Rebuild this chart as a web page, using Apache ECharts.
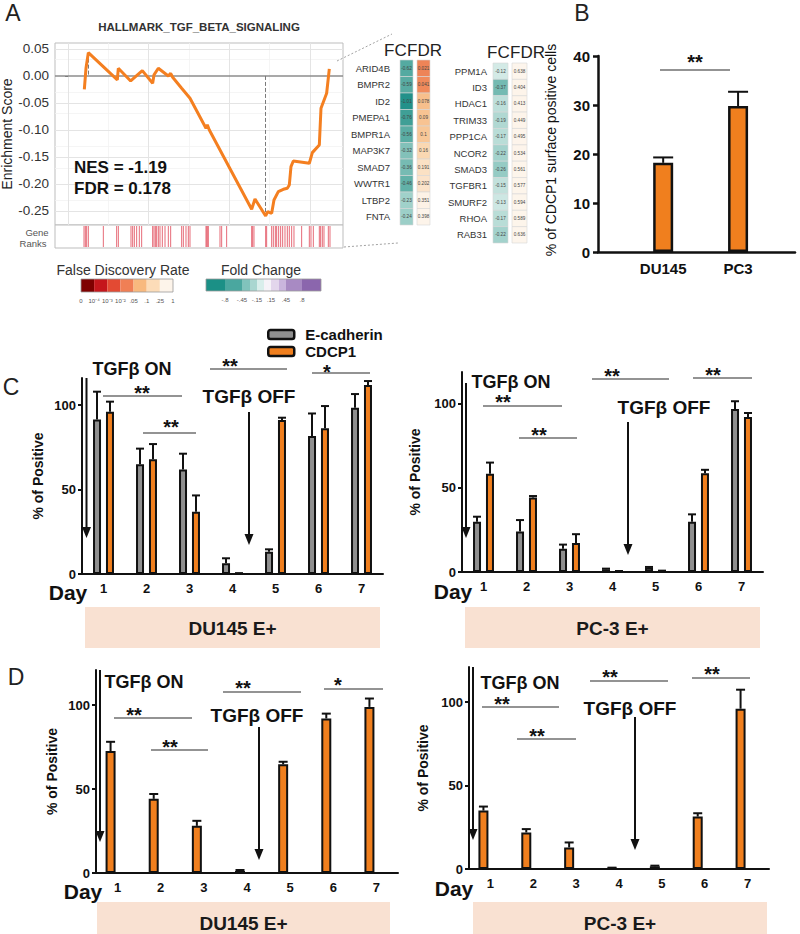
<!DOCTYPE html>
<html><head><meta charset="utf-8">
<script src="https://cdn.jsdelivr.net/npm/echarts@6/dist/echarts.min.js"></script>
<style>html,body{margin:0;padding:0;background:#fff}#c{width:800px;height:934px}</style>
</head><body><div id="c"></div>
<script>
// ================= DATA =================
// Panel A: running enrichment score (gene rank, ES)
const esRank  = [806, 889, 1005, 2445, 2494, 3107, 3686, 4199, 4265, 4480, 4977, 5093, 5192, 5639, 6053, 6847, 6913, 7013, 9115, 9280, 9810, 9909, 10108, 10223, 10438, 10687, 10885, 10985, 11067, 11183, 11978, 12127, 12474, 12557, 12838, 12970];
const esScore = [-0.0247, 0.0142, 0.0432, -0.0074, 0.0142, -0.0093, 0.0099, -0.0136, 0.0019, 0.0142, 0.0000, 0.0049, -0.0025, -0.0228, -0.0414, -0.0969, -0.0907, -0.1000, -0.2469, -0.2278, -0.2593, -0.2512, -0.2543, -0.2296, -0.2142, -0.2099, -0.2080, -0.2019, -0.1679, -0.1574, -0.1617, -0.1420, -0.1278, -0.0599, -0.0321, 0.0130];
const rankHits = [790, 856, 922, 1005, 1750, 2412, 2495, 3123, 3206, 3289, 3405, 3537, 3653, 4199, 4265, 4332, 4398, 4481, 4563, 4679, 4812, 4977, 5093, 5639, 5722, 5854, 5970, 6053, 6847, 6880, 6930, 6963, 7542, 7625, 7873, 9115, 9164, 9230, 9810, 9859, 10108, 10190, 10290, 10356, 10455, 10554, 10654, 10770, 10885, 10985, 11101, 11216, 11597, 11978, 12060, 12176, 12474, 12540, 12623, 12706, 12921, 13004];
const esTicks = [-0.25, -0.2, -0.15, -0.1, -0.05, 0, 0.05];
const esMinorTicks = [-0.275, -0.225, -0.175, -0.125, -0.075, -0.025, 0.025];
const rankGridMajor = [0, 4000, 8000, 12000];
const rankGridMinor = [2000, 6000, 10000];

// Panel A tables
const genes1 = ['ARID4B', 'BMPR2', 'ID2', 'PMEPA1', 'BMPR1A', 'MAP3K7', 'SMAD7', 'WWTR1', 'LTBP2', 'FNTA'];
const fc1    = [-0.62, -0.59, -1.01, -0.76, -0.56, -0.32, -0.36, -0.46, -0.23, -0.24];
const fdr1   = [0.021, 0.041, 0.078, 0.09, 0.1, 0.16, 0.191, 0.202, 0.351, 0.398];
const genes2 = ['PPM1A', 'ID3', 'HDAC1', 'TRIM33', 'PPP1CA', 'NCOR2', 'SMAD3', 'TGFBR1', 'SMURF2', 'RHOA', 'RAB31'];
const fc2    = [-0.12, -0.37, -0.16, -0.19, -0.17, -0.22, -0.26, -0.15, -0.13, -0.17, -0.22];
const fdr2   = [0.638, 0.404, 0.413, 0.449, 0.495, 0.534, 0.561, 0.577, 0.594, 0.589, 0.636];
const tableCols = ['FC', 'FDR'];
const fdrLegendLabels = ['0', '10\u207B\u2074', '10\u207B\u00B3', '10\u207B\u00B2', '.05', '.1', '.25', '1'];
const fcLegendLabels = ['-.8', '-.45', '-.15', '.15', '.45', '.8'];

// Panel B
const bNames = ['DU145', 'PC3'];
const bPos   = [1, 2];
const bVals  = [18.2, 29.8];
const bErr   = [1.1, 2.9];

// Panels C / D
const days = ['1', '2', '3', '4', '5', '6', '7'];
const yTicksCD = [0, 50, 100];
const cDuEcad = [91.5, 65.0, 61.9, 6.3, 13.2, 81.7, 98.4];
const cDuEcadErr = [16.4, 9.2, 9.3, 3.0, 1.4, 13.3, 8.1];
const cDuCdcp = [96.0, 67.9, 36.9, 0.3, 91.1, 86.2, 111.8];
const cDuCdcpErr = [6.0, 9.0, 9.6, 0.2, 1.4, 13.2, 2.4];
const cPcEcad = [29.9, 24.1, 13.9, 1.6, 2.6, 29.9, 97.0];
const cPcEcadErr = [3.0, 6.8, 2.4, 0.4, 0.4, 4.4, 4.6];
const cPcCdcp = [58.4, 44.4, 17.3, 0.4, 0.6, 58.8, 92.2];
const cPcCdcpErr = [6.7, 0.8, 5.2, 0.2, 0.2, 2.0, 2.4];
const dDuCdcp = [72.7, 44.2, 28.1, 1.2, 64.8, 92.1, 99.0];
const dDuCdcpErr = [5.5, 2.9, 3.0, 0.6, 1.5, 2.9, 5.0];
const dPcCdcp = [35.0, 21.9, 12.9, 0.5, 1.6, 31.4, 96.0];
const dPcCdcpErr = [2.4, 2.0, 3.0, 0.3, 0.4, 2.0, 11.4];

// ================= STYLE / HELPERS =================
const FF = '"Liberation Sans", Arial, sans-serif';
const ORANGE = '#f07f1e', GREY = '#8f8f8f', INK = '#111';

function hexToRgb(h){h=h.replace('#','');return [parseInt(h.slice(0,2),16),parseInt(h.slice(2,4),16),parseInt(h.slice(4,6),16)];}
function interp(stops, v){
  if (v <= stops[0][0]) return stops[0][1];
  if (v >= stops[stops.length-1][0]) return stops[stops.length-1][1];
  for (let i=0;i<stops.length-1;i++){
    const a=stops[i], b=stops[i+1];
    if (v>=a[0] && v<=b[0]){
      const t=(v-a[0])/(b[0]-a[0]); const ca=hexToRgb(a[1]), cb=hexToRgb(b[1]);
      return 'rgb('+ca.map((c,k)=>Math.round(c+(cb[k]-c)*t)).join(',')+')';
    }
  }
}
const fcStops = [[-1.01,'#22918a'],[-0.76,'#3f9f96'],[-0.6,'#57aba2'],[-0.45,'#63b1a8'],[-0.35,'#78bcb4'],[-0.25,'#98cdc6'],[-0.2,'#abd6d0'],[-0.15,'#c2e1dc'],[-0.12,'#d3eae6']];
const fdrStops = [[0.02,'#ee8457'],[0.045,'#f08b5c'],[0.075,'#f7be8b'],[0.1,'#f8c797'],[0.16,'#fad8b2'],[0.2,'#fbe3c9'],[0.3,'#fcf0e2'],[0.4,'#fdf4ea'],[1,'#fdf6ee']];
const fdrLegendColors = ['#7f0000','#c5161c','#e34a33','#f07f55','#f8b97e','#fcdcb8','#fdf4ea'];
const fcLegendColors = ['#1b9086','#4aa79f','#80c3bc','#a9d6d0','#d9eeeb','#f6f3f8','#e3d6ec','#cab5dd','#a88ac3','#8b66ad'];
const fcLegendEdges = [206,225,242,250,257,264,271,279,286,302,321];

function errRender(offset, capW){
  return function(params, api){
    const x = api.value(0), v = api.value(1), e = api.value(2);
    const p0 = api.coord([x, v]), p1 = api.coord([x, v + e]);
    const cx = p0[0] + offset;
    return {type:'group', children:[
      {type:'line', shape:{x1:cx, y1:p0[1], x2:cx, y2:p1[1]}, style:{stroke:INK, lineWidth:2}},
      {type:'line', shape:{x1:cx-capW/2, y1:p1[1], x2:cx+capW/2, y2:p1[1]}, style:{stroke:INK, lineWidth:2}}
    ]};
  };
}
function tableRender(inset){
  return function(params, api){
    const col = api.value(0), row = api.value(1), v = api.value(2);
    const c = api.coord([col, row]); const s = api.size([1, 1]);
    const w = s[0] - 2*inset, h = s[1];
    const color = col === 0 ? interp(fcStops, v) : interp(fdrStops, v);
    return {type:'group', children:[
      {type:'rect', shape:{x:c[0]-w/2, y:c[1]-h/2, width:w, height:h}, style:{fill:color, stroke:'#d6d6d6', lineWidth:0.6}},
      {type:'text', style:{text:String(v), x:c[0], y:c[1], align:'center', verticalAlign:'middle', fontSize:4.6, fill:'#444', fontFamily:FF}}
    ]};
  };
}
function tableData(fc, fdr){ return fc.map((v,i)=>[0,i,v]).concat(fdr.map((v,i)=>[1,i,v])); }
function errData(vals, errs){ return vals.map((v,i)=>[i, v, errs[i]]); }

function cdX(g){ return {type:'category', gridIndex:g, data:days,
  axisLine:{lineStyle:{color:INK, width:2}},
  axisTick:{alignWithLabel:true, length:4, lineStyle:{color:INK, width:2}},
  axisLabel:{color:INK, fontWeight:'bold', fontSize:13, margin:8, fontFamily:FF}}; }
function cdY(g, max, gap){ return {type:'value', gridIndex:g, min:0, max:max,
  axisLine:{show:true, lineStyle:{color:INK, width:2}},
  axisTick:{show:true, length:4, customValues:yTicksCD, lineStyle:{color:INK, width:2}},
  axisLabel:{customValues:yTicksCD, color:INK, fontWeight:'bold', fontSize:13, margin:6, fontFamily:FF},
  splitLine:{show:false},
  name:'% of Positive', nameLocation:'middle', nameGap:gap, nameRotate:90,
  nameTextStyle:{fontWeight:'bold', fontSize:14, color:INK, fontFamily:FF}}; }
function barS(name, g, data, bw, gap, color){ return {type:'bar', name:name, xAxisIndex:g, yAxisIndex:g, data:data,
  barWidth:bw, barGap:gap, itemStyle:{color:color, borderColor:INK, borderWidth:2}, z:3}; }
function errS(g, vals, errs, offset, cap){ return {type:'custom', xAxisIndex:g, yAxisIndex:g, data:errData(vals, errs),
  encode:{x:0, y:1}, renderItem:errRender(offset, cap), z:4, silent:true}; }

// graphic helpers
const G = [];
function txt(text, x, y, size, o){ G.push(Object.assign({type:'text', x:x, y:y, z:50,
  style:Object.assign({text:text, fill:INK, fontSize:size, fontFamily:FF, align:'center', verticalAlign:'middle'}, (o&&o.style)||{})},
  o && o.rotation ? {rotation:o.rotation} : {})); }
function line(x1,y1,x2,y2,stroke,w,dash){ G.push({type:'line', z:50, shape:{x1,y1,x2,y2}, style:{stroke:stroke, lineWidth:w, lineDash:dash||null}}); }
function arrow(x, y1, y2){ line(x, y1, x, y2-9, INK, 2); G.push({type:'polygon', z:50, shape:{points:[[x-4.5,y2-11],[x+4.5,y2-11],[x,y2]]}, style:{fill:INK}}); }
function sig(x1, x2, y, label, sx, sy){ line(x1, y, x2, y, '#6f6f6f', 1.3); txt(label, sx, sy, 20, {style:{fontWeight:'bold'}}); }
function band(x, y, w, h, label){ G.push({type:'rect', z:10, shape:{x:x, y:y, width:w, height:h}, style:{fill:'#f9e1d2'}});
  txt(label, x + w/2, y + h/2 + 1, 19, {style:{fontWeight:'bold', fill:'#1a1a1a'}}); }

// ---------- Panel A graphics ----------
txt('A', 13, 13, 23, {style:{fill:'#222'}});
txt('HALLMARK_TGF_BETA_SIGNALING', 199, 27, 11.5, {style:{fontWeight:'bold', fill:'#333'}});
txt('NES = -1.19', 74, 167, 17, {style:{fontWeight:'bold', align:'left'}});
txt('FDR = 0.178', 74, 188, 17, {style:{fontWeight:'bold', align:'left'}});
txt('Gene', 37, 232, 9.5, {style:{fill:'#555'}});
txt('Ranks', 33, 243, 9.5, {style:{fill:'#555'}});
line(337, 61, 392, 34, '#8a8a8a', 0.8, [2,2]);
line(344, 247, 398, 243, '#8a8a8a', 0.8, [2,2]);
txt('False Discovery Rate', 123, 270, 14, {style:{fill:'#333'}});
txt('Fold Change', 261, 270, 14, {style:{fill:'#333'}});
(function(){
  const x0 = 81, w = 92/fdrLegendColors.length;
  fdrLegendColors.forEach((c,i)=>G.push({type:'rect', z:40, shape:{x:x0+i*w, y:279, width:w, height:13}, style:{fill:c}}));
  G.push({type:'rect', z:41, shape:{x:x0, y:279, width:92, height:13}, style:{fill:'none', stroke:'#9a9a9a', lineWidth:0.8}});
  fdrLegendLabels.forEach((l,i)=>txt(l, x0+i*w, 301, 6, {style:{fill:'#555'}}));
  fcLegendColors.forEach((c,i)=>G.push({type:'rect', z:40, shape:{x:fcLegendEdges[i], y:279, width:fcLegendEdges[i+1]-fcLegendEdges[i], height:12}, style:{fill:c}}));
  G.push({type:'rect', z:41, shape:{x:206, y:279, width:115, height:12}, style:{fill:'none', stroke:'#9a9a9a', lineWidth:0.8}});
  const fcLabX = [225, 242, 257, 271, 286, 302];
  fcLegendLabels.forEach((l,i)=>txt(l, fcLabX[i], 300, 6, {style:{fill:'#555'}}));
})();
// table headers
txt('FC', 384, 50, 17, {style:{align:'left', fill:'#222'}});
txt('FDR', 407, 50, 17, {style:{align:'left', fill:'#222'}});
txt('FC', 487, 52, 17, {style:{align:'left', fill:'#222'}});
txt('FDR', 510, 52, 17, {style:{align:'left', fill:'#222'}});

// ---------- Panel B graphics ----------
txt('B', 582, 13, 23, {style:{fill:'#222'}});
txt('% of CDCP1 surface positive cells', 551, 150, 14, {rotation:Math.PI/2});
sig(660, 730, 70, '**', 695, 62);

// ---------- Panel C graphics ----------
txt('C', 11, 387, 23, {style:{fill:'#222'}});
txt('TGF\u03B2 ON', 132, 369, 18, {style:{fontWeight:'bold'}});
txt('TGF\u03B2 OFF', 249, 396, 19, {style:{fontWeight:'bold'}});
arrow(86.5, 378, 538); arrow(249, 412, 545);
sig(210, 287, 369, '**', 230, 366);
sig(312, 370, 373, '*', 327, 372);
sig(103, 182, 396, '**', 142, 393);
sig(143, 196, 433, '**', 171, 427);
txt('Day', 68, 592, 21, {style:{fontWeight:'bold'}});
band(85, 607, 295, 41, 'DU145 E+');

txt('TGF\u03B2 ON', 511, 382, 18, {style:{fontWeight:'bold'}});
txt('TGF\u03B2 OFF', 664, 407, 19, {style:{fontWeight:'bold'}});
arrow(466, 383, 538); arrow(628, 422, 555);
sig(592, 669, 379, '**', 612, 376);
sig(693, 752, 378, '**', 713, 375);
sig(483, 562, 406, '**', 503, 402);
sig(519, 577, 438, '**', 539, 435);
txt('Day', 453, 591, 21, {style:{fontWeight:'bold'}});
band(465, 607, 295, 41, 'PC-3 E+');

// ---------- Panel D graphics ----------
txt('D', 16, 677, 23, {style:{fill:'#222'}});
txt('TGF\u03B2 ON', 144, 682, 18, {style:{fontWeight:'bold'}});
txt('TGF\u03B2 OFF', 257, 715, 19, {style:{fontWeight:'bold'}});
arrow(100, 670, 842); arrow(259, 727, 860);
sig(223, 301, 692, '**', 243, 688);
sig(324, 383, 689, '*', 338, 685);
sig(114, 192, 718, '**', 134, 715);
sig(151, 208, 750, '**', 170, 747);
txt('Day', 83, 891, 21, {style:{fontWeight:'bold'}});
band(97, 902, 293, 40, 'DU145 E+');

txt('TGF\u03B2 ON', 520, 683, 18, {style:{fontWeight:'bold'}});
txt('TGF\u03B2 OFF', 630, 708, 19, {style:{fontWeight:'bold'}});
arrow(473, 667, 840); arrow(635, 717, 850);
sig(482, 559, 707, '**', 502, 704);
sig(517, 576, 739, '**', 537, 736);
sig(590, 668, 681, '**', 610, 677);
sig(692, 750, 678, '**', 712, 674);
txt('Day', 454, 888, 21, {style:{fontWeight:'bold'}});
band(473, 902, 294, 40, 'PC-3 E+');

// ================= CHART =================
let iMax = 0, iMin = 0;
esScore.forEach((v,i)=>{ if (v > esScore[iMax]) iMax = i; if (v < esScore[iMin]) iMin = i; });
const gridLines = [].concat(
  esMinorTicks.map(v=>({yAxis:v, lineStyle:{color:'#f3f3f3', width:0.8, type:'solid'}})),
  rankGridMinor.map(v=>({xAxis:v, lineStyle:{color:'#f3f3f3', width:0.8, type:'solid'}})),
  esTicks.filter(v=>v!==0).map(v=>({yAxis:v, lineStyle:{color:'#e4e4e4', width:1, type:'solid'}})),
  rankGridMajor.map(v=>({xAxis:v, lineStyle:{color:'#e4e4e4', width:1, type:'solid'}})),
  [{yAxis:0, lineStyle:{color:'#8c8c8c', width:1.5, type:'solid'}}]
);

const tableY = (g, genes, margin) => ({type:'category', gridIndex:g, data:genes, inverse:true,
  axisLine:{show:false}, axisTick:{show:false},
  axisLabel:{fontSize:9.5, color:'#333', margin:margin, fontFamily:FF}});

const option = {
  animation:false,
  backgroundColor:'#ffffff',
  textStyle:{fontFamily:FF},
  legend:{show:true, selectedMode:false, orient:'vertical', left:262, top:322,
    data:[{name:'E-cadherin', icon:'roundRect'}, {name:'CDCP1', icon:'roundRect'}],
    itemWidth:26, itemHeight:9, itemGap:2,
    itemStyle:{borderColor:INK, borderWidth:2.5},
    textStyle:{fontWeight:'bold', fontSize:15, color:INK, padding:[0,0,0,6], fontFamily:FF}},
  grid:[
    {left:55, top:43, width:288, height:182, show:true, borderColor:'#bdbdbd', borderWidth:1, backgroundColor:'#fff', outerBoundsMode:'none'},
    {left:55, top:225, width:288, height:23, show:true, borderColor:'#bdbdbd', borderWidth:1, backgroundColor:'#fff', outerBoundsMode:'none'},
    {left:398, top:60, width:34, height:165, outerBoundsMode:'none'},
    {left:491, top:63, width:38, height:180, outerBoundsMode:'none'},
    {left:598, top:56, width:197, height:196, outerBoundsMode:'none'},
    {left:82, top:378, width:301, height:196, outerBoundsMode:'none'},
    {left:462, top:372, width:301, height:200, outerBoundsMode:'none'},
    {left:96, top:670, width:302, height:203, outerBoundsMode:'none'},
    {left:469, top:667, width:300, height:202, outerBoundsMode:'none'}
  ],
  xAxis:[
    {type:'value', gridIndex:0, min:-650, max:13650, show:false},
    {type:'value', gridIndex:1, min:-650, max:13650, show:false},
    {type:'category', gridIndex:2, data:tableCols, show:false},
    {type:'category', gridIndex:3, data:tableCols, show:false},
    {type:'value', gridIndex:4, min:0.13, max:2.76,
      axisLine:{show:true, onZero:false, lineStyle:{color:INK, width:2.5}}, axisTick:{show:false},
      axisLabel:{customValues:bPos, formatter:v=>bNames[bPos.indexOf(v)] || '', fontWeight:'bold', fontSize:15, color:INK, margin:9, fontFamily:FF},
      splitLine:{show:false}},
    cdX(5), cdX(6), cdX(7), cdX(8)
  ],
  yAxis:[
    {type:'value', gridIndex:0, min:-0.276, max:0.061,
      axisLine:{show:false},
      axisTick:{show:true, length:3, customValues:esTicks, lineStyle:{color:'#444'}},
      axisLabel:{customValues:esTicks, formatter:v=>v.toFixed(2), color:'#333', fontSize:13.5, margin:6, fontFamily:FF},
      splitLine:{show:false},
      name:'Enrichment Score', nameLocation:'middle', nameGap:36, nameRotate:90,
      nameTextStyle:{fontSize:14, color:'#222', fontFamily:FF}},
    {type:'value', gridIndex:1, min:0, max:1, show:false},
    tableY(2, genes1, 8),
    tableY(3, genes2, 4),
    {type:'value', gridIndex:4, min:0, max:40, interval:10,
      axisLine:{show:true, lineStyle:{color:INK, width:2.5}},
      axisTick:{show:true, length:5, lineStyle:{color:INK, width:2.5}},
      axisLabel:{fontWeight:'bold', fontSize:15, color:INK, margin:8, fontFamily:FF},
      splitLine:{show:false}},
    cdY(5, 116, 37), cdY(6, 119, 40), cdY(7, 121, 37), cdY(8, 121, 39)
  ],
  series:[
    {type:'line', xAxisIndex:0, yAxisIndex:0, data:[], z:1, silent:true,
      markLine:{symbol:'none', silent:true, animation:false, label:{show:false}, data:gridLines}},
    {type:'line', name:'ES', xAxisIndex:0, yAxisIndex:0, z:5, showSymbol:false, symbol:'none',
      data:esRank.map((r,i)=>[r, esScore[i]]),
      lineStyle:{color:'#f47f20', width:3}, itemStyle:{color:'#f47f20'},
      markLine:{symbol:'none', silent:true, animation:false, label:{show:false},
        lineStyle:{color:'#7a7a7a', type:'dashed', width:1},
        data:[
          [{coord:[esRank[iMax], esScore[iMax]]}, {coord:[esRank[iMax], 0]}],
          [{coord:[esRank[iMin], 0]}, {coord:[esRank[iMin], esScore[iMin]]}]
        ]}},
    {type:'custom', xAxisIndex:1, yAxisIndex:1, data:rankHits.map(r=>[r, 1]), encode:{x:0, y:1}, silent:true,
      renderItem:function(params, api){
        const top = api.coord([api.value(0), 1]), bot = api.coord([api.value(0), 0]);
        return {type:'line', shape:{x1:top[0], y1:top[1]+1, x2:bot[0], y2:bot[1]-1}, style:{stroke:'#e66b78', lineWidth:1}};
      }},
    {type:'custom', xAxisIndex:2, yAxisIndex:2, data:tableData(fc1, fdr1), encode:{x:0, y:1}, renderItem:tableRender(2), silent:true},
    {type:'custom', xAxisIndex:3, yAxisIndex:3, data:tableData(fc2, fdr2), encode:{x:0, y:1}, renderItem:tableRender(2), silent:true},
    // Panel B
    {type:'bar', name:'CDCP1 surface', xAxisIndex:4, yAxisIndex:4, data:bPos.map((p,i)=>[p, bVals[i]]), barWidth:20,
      itemStyle:{color:ORANGE, borderColor:INK, borderWidth:2.5}, z:3},
    {type:'custom', xAxisIndex:4, yAxisIndex:4, data:bPos.map((p,i)=>[p, bVals[i], bErr[i]]), encode:{x:0, y:1}, renderItem:errRender(0, 20), z:4, silent:true},
    // Panel C
    barS('E-cadherin', 5, cDuEcad, 8, '62%', GREY), barS('CDCP1', 5, cDuCdcp, 8, '62%', ORANGE),
    errS(5, cDuEcad, cDuEcadErr, -6.5, 8), errS(5, cDuCdcp, cDuCdcpErr, 6.5, 8),
    barS('E-cadherin', 6, cPcEcad, 8, '62%', GREY), barS('CDCP1', 6, cPcCdcp, 8, '62%', ORANGE),
    errS(6, cPcEcad, cPcEcadErr, -6.5, 8), errS(6, cPcCdcp, cPcCdcpErr, 6.5, 8),
    // Panel D (CDCP1 only, occupying the left slot)
    barS('CDCP1', 7, dDuCdcp, 10, '40%', ORANGE), barS('slot', 7, [], 10, '40%', ORANGE),
    errS(7, dDuCdcp, dDuCdcpErr, -7, 9),
    barS('CDCP1', 8, dPcCdcp, 10, '40%', ORANGE), barS('slot', 8, [], 10, '40%', ORANGE),
    errS(8, dPcCdcp, dPcCdcpErr, -7, 9)
  ],
  graphic:{elements:G}
};
const chart = echarts.init(document.getElementById('c'), null, {renderer:'svg', width:800, height:934});
chart.setOption(option);
</script></body></html>
